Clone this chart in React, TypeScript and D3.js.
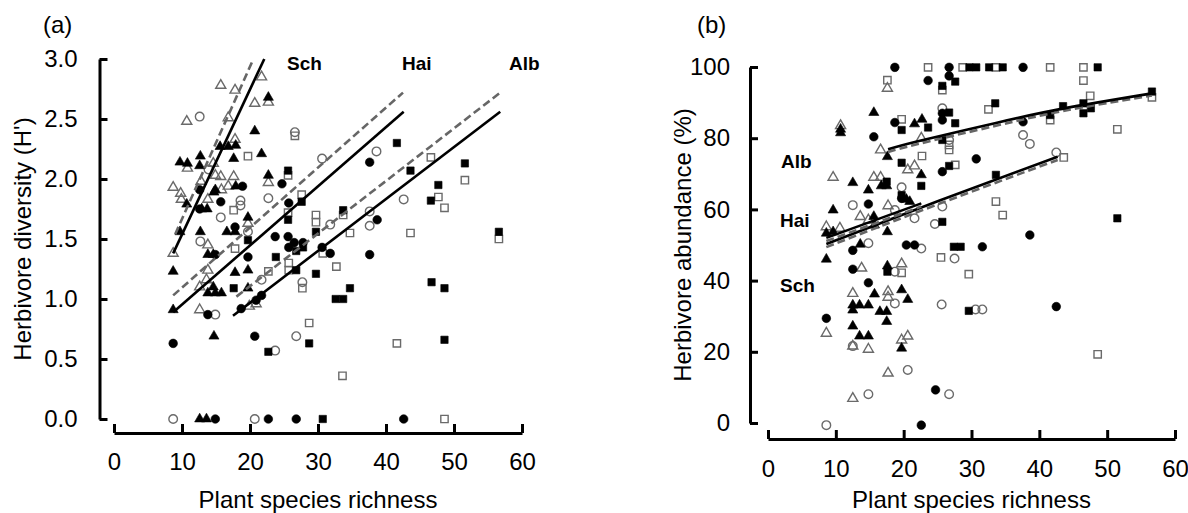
import React, { useEffect, useRef } from "react";
import * as d3 from "d3";

// shared ticks
const xTicks = [0, 10, 20, 30, 40, 50, 60];
const aYTicks = [0, 0.5, 1, 1.5, 2, 2.5, 3];
const bYTicks = [0, 20, 40, 60, 80, 100];

// panel (a): herbivore diversity, [richness, H']
const aSchFilled = [[22.7,2.68],[20.7,2.40],[15.6,2.27],[16.8,2.27],[17.9,2.28],[21.7,2.21],[9.7,2.14],[10.8,2.13],[12.7,2.19],[12.6,2.11],[17.6,2.17],[22.7,2.03],[17.9,1.94],[14.7,1.89],[14.9,1.91],[10.7,1.79],[13.7,1.75],[12.9,1.75],[19.7,1.68],[16.6,1.56],[17.8,1.56],[12.7,1.56],[9.7,1.56],[13.8,1.37],[14.6,1.37],[8.7,1.23],[17.8,1.22],[19.7,1.24],[14.6,1.10],[13.8,1.05],[14.9,1.05],[15.8,1.05],[19.7,1.09],[8.7,0.91],[14.7,0.69],[12.6,0],[13.6,0]];
const aSchOpen = [[21.7,2.85],[15.7,2.78],[17.8,2.74],[22.7,2.64],[20.7,2.63],[10.7,2.48],[16.8,2.51],[17.8,2.33],[10.8,2.09],[14.6,2.13],[14.9,2.03],[15.7,2.02],[17.6,2.02],[22.7,1.97],[12.8,1.98],[8.7,1.93],[9.8,1.88],[9.9,1.83],[16.8,1.94],[15.8,1.91],[13.8,1.83],[19.7,1.63],[13.8,1.45],[8.7,1.38],[13.8,1.24],[13.6,1.16],[12.6,1.10],[12.6,0.91],[19.9,0.94],[20.9,0.96]];
const aHaiFilled = [[24.7,1.96],[18.9,1.94],[12.6,1.91],[25.7,1.80],[15.7,1.81],[12.6,1.75],[17.8,1.60],[23.7,1.52],[25.6,1.52],[26.5,1.47],[27.8,1.47],[30.6,1.43],[14.9,1.37],[19.7,1.35],[25.7,1.43],[31.8,1.38],[37.6,2.14],[38.7,1.66],[37.6,1.37],[18.7,0.92],[20.9,0.99],[21.7,1.03],[13.8,0.87],[20.7,0.69],[8.7,0.63],[14.9,0],[22.7,0],[26.8,0],[42.6,0]];
const aHaiOpen = [[12.6,2.52],[26.6,2.39],[30.6,2.17],[13.9,2.08],[22.7,1.84],[18.6,1.82],[18.6,1.78],[15.7,1.68],[31.8,1.62],[19.7,1.56],[12.7,1.48],[27.7,1.14],[21.7,1.16],[14.9,0.87],[26.8,0.69],[23.7,0.57],[38.6,2.23],[42.6,1.83],[37.6,1.73],[37.6,1.61],[8.7,0],[20.7,0]];
const aAlbFilled = [[25.6,2.07],[27.6,1.81],[25.6,1.66],[19.7,1.49],[29.7,1.56],[23.8,1.35],[26.8,1.40],[27.8,1.43],[17.6,1.09],[26.8,1.24],[29.7,1.21],[32.6,1.00],[33.7,1.00],[34.7,1.09],[28.7,0.63],[22.7,0.56],[46.7,1.14],[48.6,1.09],[48.6,0.66],[41.6,2.30],[51.6,2.13],[43.6,2.07],[47.7,1.95],[46.6,1.82],[33.7,1.74],[56.6,1.56],[30.7,0]];
const aAlbOpen = [[26.6,2.36],[19.7,2.19],[25.6,2.03],[27.6,1.87],[17.6,1.74],[25.6,1.72],[29.7,1.70],[29.7,1.64],[17.8,1.42],[25.7,1.30],[25.7,1.24],[30.7,1.38],[32.7,1.27],[22.7,1.23],[27.7,1.09],[28.7,0.80],[41.6,0.63],[33.6,0.36],[48.6,0],[46.6,2.18],[51.6,1.99],[47.7,1.85],[48.6,1.76],[33.7,1.70],[34.7,1.55],[43.6,1.55],[56.6,1.50]];

// fitted lines (a)
const aSchSolid = [[8.7,1.38],[22.1,3.0]];
const aSchDash = [[9.0,1.54],[20.5,3.0]];
const aHaiSolid = [[8.7,0.89],[42.6,2.56]];
const aHaiDash = [[8.7,1.03],[42.5,2.72]];
const aAlbSolid = [[17.5,0.86],[56.8,2.56]];
const aAlbDash = [[18.0,1.02],[56.8,2.72]];

// panel (b): herbivore abundance %, [richness, %]
const bSchFilled = [[10.7,82.5],[10.7,81.5],[15.6,87.2],[21.6,84],[22.7,85.3],[17.6,74.8],[12.5,67.5],[16.7,66.6],[17.5,66.6],[22.6,69.7],[14.8,65.4],[20.4,62.8],[20.9,62.2],[9.6,59.8],[15.6,58],[8.6,53.3],[9.6,53.7],[15.7,55.6],[17.6,53.7],[13.6,50.2],[8.6,46],[17.6,44.1],[15.7,36.2],[19.7,37.4],[20.6,34.7],[12.5,33.1],[12.5,31.7],[13.5,33.1],[14.8,33.1],[16.5,31.3],[17.5,31.3],[17.5,28.5],[12.5,27.2],[13.5,24.4],[14.8,24.4],[19.7,21]];
const bSchOpen = [[10.7,83.5],[17.6,94],[22.6,80],[16.6,76.7],[20.6,71.1],[21.6,72.2],[9.6,69],[15.6,69],[16.6,69],[17.7,61],[13.6,58],[14.8,57],[8.6,55.1],[10.6,54.7],[13.8,43.5],[19.7,44.7],[12.5,36.4],[17.7,36.9],[17.7,35.3],[8.6,25.2],[12.5,21.6],[14.8,20.7],[19.7,23.3],[20.6,24.4],[17.7,14],[12.5,6.9]];
const bHaiFilled = [[18.7,99.9],[26.7,99.9],[37.6,99.9],[23.6,96.2],[26.7,97.5],[18.7,84.4],[25.7,87],[25.7,85.1],[15.6,80.4],[25.7,70.6],[30.7,74.2],[14.8,61.5],[19.7,63.1],[12.5,48.5],[20.4,50],[21.6,50],[31.6,49.5],[12.5,43.2],[14.8,39.4],[37.6,84.6],[38.6,52.8],[42.5,32.7],[8.6,29.4],[24.7,9.3],[22.6,-0.6]];
const bHaiOpen = [[25.7,88.4],[26.7,79.5],[19.7,66.2],[12.5,61.2],[18.7,59.8],[21.6,57.5],[25.7,60.8],[24.6,55.9],[14.8,50.5],[22.6,49],[27.5,46.2],[18.7,42.5],[18.7,33.6],[25.6,33.3],[30.6,31.9],[31.6,31.9],[20.6,14.9],[14.8,8.1],[26.7,8.1],[8.6,-0.6],[37.6,80.9],[38.6,78.4],[42.5,76],[12.5,21.6]];
const bAlbFilled = [[29.7,99.9],[30.7,99.9],[32.6,99.9],[34.6,99.9],[48.6,99.9],[27.6,95.9],[25.7,94.7],[19.7,82.3],[23.6,83],[26.7,87.2],[27.6,84.2],[33.5,89.8],[25.7,79.5],[19.7,73.1],[26.7,72.2],[17.5,67.8],[22.6,66.6],[19.7,64],[25.7,56.5],[27.4,49.5],[28.4,49.5],[17.6,42.5],[29.6,31.5],[56.6,93.1],[43.5,89],[46.5,89.8],[47.6,88.4],[46.5,87],[41.6,86.5],[33.6,69.7],[51.5,57.5]];
const bAlbOpen = [[23.6,99.9],[28.7,99.9],[33.6,99.9],[41.6,99.9],[46.5,99.9],[17.6,96.3],[25.7,93.5],[19.7,85.3],[32.5,88.1],[26.7,78.1],[26.7,76.7],[22.7,75],[27.6,72.5],[19.7,42.2],[25.5,46.5],[29.6,41.8],[46.5,96.2],[47.5,91.9],[56.6,91.5],[41.6,85.1],[51.5,82.5],[43.6,74.6],[33.6,62.2],[34.6,58.4],[48.6,19.3]];

// fitted curves (b)
const bAlbSolid = [[17.7,76.9],[22.4,79.3],[33.6,84.3],[43.4,88.3],[56.6,92.6]];
const bAlbDash = [[17.7,76.1],[22.4,78.5],[33.6,83.5],[43.4,87.6],[56.6,92.0]];
const bSchSolid = [[8.6,52],[22.6,61.7]];
const bSchDash = [[8.6,51.1],[22.6,60.8]];
const bHaiSolid = [[8.6,50.3],[25,62.3],[42.7,74.8]];
const bHaiDash = [[8.6,49.4],[25,61.4],[42.7,73.9]];

const FONT = "'Liberation Sans', Arial, Helvetica, sans-serif";
const GREY = "#6a6a6a";

const symbols = { triangle: d3.symbolTriangle, circle: d3.symbolCircle, square: d3.symbolSquare };
const symSize = { triangle: 44, circle: 58, square: 54 };

function drawPanel(svg, cfg) {
  var x = d3.scaleLinear().domain([0, 60]).range([cfg.left, cfg.right]);
  var y = d3.scaleLinear().domain([0, cfg.yMax]).range([cfg.bottom, cfg.top]);
  var g = svg.append("g");

  // y axis, ticks pointing inward
  var yg = g
    .append("g")
    .attr("transform", `translate(${cfg.yAxisX},0)`)
    .call(
      d3.axisLeft(y).tickValues(cfg.yTicks).tickSize(-8).tickSizeOuter(0)
        .tickPadding(cfg.yPad).tickFormat(cfg.yFmt)
    );

  var xg = g
    .append("g")
    .attr("transform", `translate(0,${cfg.xAxisY})`)
    .call(
      d3.axisBottom(x).tickValues(xTicks).tickSize(-9).tickSizeOuter(0)
        .tickPadding(cfg.xPad).tickFormat(d3.format("d"))
    );

  [yg, xg].forEach((a) => {
    a.select(".domain").attr("stroke", "#000").attr("stroke-width", 3);
    a.selectAll(".tick line").attr("stroke", "#000").attr("stroke-width", 3);
    a.selectAll(".tick text").attr("font-size", 24).attr("font-family", FONT).attr("fill", "#000");
  });

  // open markers first, filled on top
  var ordered = cfg.series.filter((s) => !s.filled).concat(cfg.series.filter((s) => s.filled));
  ordered.forEach((s) => {
    g.append("g")
      .selectAll("path")
      .data(s.data)
      .join("path")
      .attr("transform", (d) => `translate(${x(d[0])},${y(d[1])})`)
      .attr("d", d3.symbol(symbols[s.shape], symSize[s.shape]))
      .attr("fill", s.filled ? "#000" : "none")
      .attr("stroke", s.filled ? "#000" : GREY)
      .attr("stroke-width", s.filled ? 0.6 : 1.4);
  });

  var line = d3
    .line()
    .x((d) => x(d[0]))
    .y((d) => y(d[1]))
    .curve(d3.curveNatural);

  cfg.lines.forEach((l) => {
    g.append("path")
      .attr("d", line(l.data))
      .attr("fill", "none")
      .attr("stroke", l.dashed ? "#666" : "#000")
      .attr("stroke-width", 2.6)
      .attr("stroke-dasharray", l.dashed ? "8,4" : null);
  });

  cfg.labels.forEach((t) => {
    g.append("text")
      .attr("x", t.x)
      .attr("y", t.y)
      .attr("font-family", FONT)
      .attr("font-weight", "bold")
      .attr("font-size", 19)
      .text(t.text);
  });

  g.append("text")
    .attr("x", cfg.letterX)
    .attr("y", 33)
    .attr("font-family", FONT)
    .attr("font-size", 24)
    .text(cfg.letter);

  g.append("text")
    .attr("x", (cfg.left + cfg.right) / 2)
    .attr("y", 508)
    .attr("text-anchor", "middle")
    .attr("font-family", FONT)
    .attr("font-size", 24)
    .text("Plant species richness");

  g.append("text")
    .attr("transform", `translate(${cfg.titleX},${(cfg.top + cfg.bottom) / 2}) rotate(-90)`)
    .attr("text-anchor", "middle")
    .attr("font-family", FONT)
    .attr("font-size", 24)
    .text(cfg.title);
}

export default function App() {
  const ref = useRef(null);

  useEffect(() => {
    var svg = d3.select(ref.current);
    svg.selectAll("*").remove();

    drawPanel(svg, {
      left: 114, right: 522, top: 59, bottom: 419,
      yAxisX: 99.5, xAxisY: 433, yMax: 3, yTicks: aYTicks, yFmt: d3.format(".1f"),
      yPad: 22, xPad: 20, titleX: 31, letter: "(a)", letterX: 43,
      title: "Herbivore diversity (H')",
      series: [
        { data: aSchOpen, shape: "triangle", filled: false },
        { data: aHaiOpen, shape: "circle", filled: false },
        { data: aAlbOpen, shape: "square", filled: false },
        { data: aSchFilled, shape: "triangle", filled: true },
        { data: aHaiFilled, shape: "circle", filled: true },
        { data: aAlbFilled, shape: "square", filled: true },
      ],
      lines: [
        { data: aSchDash, dashed: true }, { data: aSchSolid, dashed: false },
        { data: aHaiDash, dashed: true }, { data: aHaiSolid, dashed: false },
        { data: aAlbDash, dashed: true }, { data: aAlbSolid, dashed: false },
      ],
      labels: [
        { text: "Sch", x: 287, y: 70 },
        { text: "Hai", x: 402, y: 70 },
        { text: "Alb", x: 509, y: 70 },
      ],
    });

    drawPanel(svg, {
      left: 768, right: 1175, top: 67, bottom: 423,
      yAxisX: 750, xAxisY: 439, yMax: 100, yTicks: bYTicks, yFmt: d3.format("d"),
      yPad: 20, xPad: 21, titleX: 691, letter: "(b)", letterX: 697,
      title: "Herbivore abundance (%)",
      series: [
        { data: bSchOpen, shape: "triangle", filled: false },
        { data: bHaiOpen, shape: "circle", filled: false },
        { data: bAlbOpen, shape: "square", filled: false },
        { data: bSchFilled, shape: "triangle", filled: true },
        { data: bHaiFilled, shape: "circle", filled: true },
        { data: bAlbFilled, shape: "square", filled: true },
      ],
      lines: [
        { data: bAlbDash, dashed: true }, { data: bAlbSolid, dashed: false },
        { data: bHaiDash, dashed: true }, { data: bHaiSolid, dashed: false },
        { data: bSchDash, dashed: true }, { data: bSchSolid, dashed: false },
      ],
      labels: [
        { text: "Alb", x: 781, y: 168 },
        { text: "Hai", x: 780, y: 227 },
        { text: "Sch", x: 780, y: 292 },
      ],
    });
  }, []);

  return (
    <svg
      ref={ref}
      width={1188}
      height={513}
      style={{ position: "absolute", left: 0, top: 0, background: "#fff" }}
    />
  );
}
